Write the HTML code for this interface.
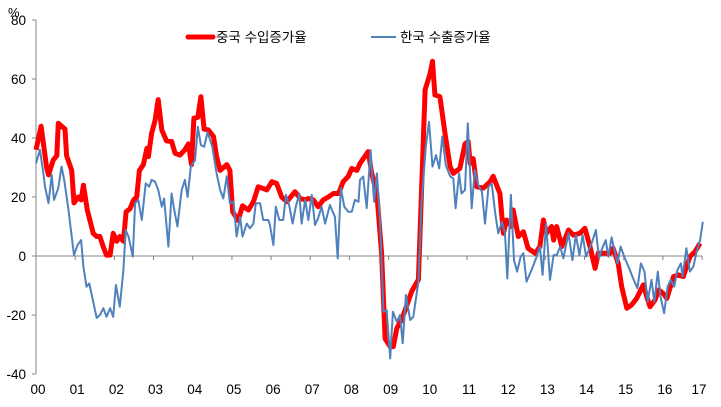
<!DOCTYPE html>
<html><head><meta charset="utf-8"><style>
body{margin:0;background:#fff;}
svg text{font-family:"Liberation Sans","Noto Sans CJK KR",sans-serif;fill:#000;}
</style></head><body>
<svg width="721" height="402" viewBox="0 0 721 402" xmlns="http://www.w3.org/2000/svg">
<g id="axes"></g>
<g id="series"></g>
<g>
<line x1="188" y1="37" x2="213" y2="37" stroke="#FF0000" stroke-width="5" stroke-linecap="round"/>
<text x="216" y="42" font-size="13.5">중국 수입증가율</text>
<line x1="371" y1="37" x2="396" y2="37" stroke="#4F81BD" stroke-width="2"/>
<text x="400" y="42" font-size="13.5">한국 수출증가율</text>
</g>
<text x="8" y="17" font-size="13">%</text>
</svg>
<script>
const yTicks=[80,60,40,20,0,-20,-40];
const xTickLabels=["00","01","02","03","04","05","06","07","08","09","10","11","12","13","14","15","16","17"];
const chinaT=[0,.13,.27,.32,.44,.53,.57,.74,.78,.91,.97,1.08,1.15,1.21,1.31,1.46,1.55,1.63,1.72,1.8,1.89,1.97,2.06,2.14,2.23,2.3,2.4,2.49,2.57,2.64,2.74,2.83,2.87,2.95,3.04,3.12,3.21,3.33,3.46,3.55,3.67,3.8,3.89,3.97,4.03,4.13,4.21,4.29,4.4,4.53,4.61,4.7,4.87,4.95,5.02,5.16,5.27,5.42,5.55,5.67,5.89,6.02,6.14,6.27,6.4,6.61,6.74,6.87,6.95,7.08,7.2,7.33,7.46,7.59,7.72,7.84,7.97,8.06,8.19,8.27,8.48,8.57,8.7,8.82,8.91,9.04,9.12,9.21,9.33,9.46,9.59,9.76,9.93,10.06,10.12,10.18,10.31,10.44,10.57,10.65,10.82,10.95,11.03,11.08,11.16,11.25,11.42,11.59,11.67,11.84,11.93,12.01,12.14,12.18,12.31,12.44,12.56,12.74,12.86,12.95,13.03,13.16,13.21,13.29,13.42,13.59,13.71,13.88,14.01,14.14,14.27,14.35,14.48,14.65,14.73,14.86,14.95,15.08,15.2,15.33,15.5,15.59,15.67,15.8,15.89,16.01,16.1,16.27,16.4,16.52,16.69,16.82,16.95];
const chinaV=[36,44,30,27.5,32.5,34,45,43,34,29,18,20,19,24,15.6,7.7,6.6,6.6,3,0.3,0.3,7.7,5,6.6,5,15,16,19,20,29,31,36.5,33.7,41.6,46,53,42.7,39,38.8,34.8,34.2,36,38,31,46.7,47,54,43,42.7,40.5,33.7,29,31,29,15,12,17,15.6,18.4,23.5,22.4,25.2,24.6,20,18.4,21.8,19.5,19,19.5,19,16.7,19,20,21.2,21.2,25.2,27,29.7,29,31.4,35.4,28,21,1,-28,-30.7,-30.7,-24.5,-21.7,-17,-12,-8,56.3,62,66,54.6,54,41.6,30.3,28,29.7,38,38.8,31.4,33,23.5,23,25.2,27,21.2,7.7,12.2,10,15.6,6.6,8.2,2.6,0.9,3.2,12.2,7.7,10,5.4,10,3.2,8.8,7.1,7.7,9.4,3.2,-4.2,0.9,0.9,0.9,2.6,-2.5,-10.4,-17.7,-16.6,-14.4,-9.8,-13.8,-17.2,-14.9,-11.5,-12.7,-14.4,-7,-6.4,-7,-0.2,1.5,4.3];
const koreaT=[0,.1,.19,.23,.32,.4,.46,.57,.65,.72,.83,.91,.97,1.06,1.15,1.21,1.29,1.36,1.46,1.55,1.63,1.72,1.8,1.89,1.97,2.04,2.14,2.23,2.29,2.36,2.47,2.53,2.61,2.7,2.8,2.89,2.95,3.04,3.12,3.21,3.27,3.38,3.46,3.53,3.61,3.72,3.8,3.87,3.95,4.06,4.13,4.21,4.29,4.38,4.5,4.61,4.7,4.78,4.87,4.95,5.04,5.12,5.21,5.27,5.38,5.46,5.55,5.61,5.72,5.8,5.93,5.97,6.06,6.12,6.21,6.31,6.38,6.46,6.55,6.63,6.72,6.78,6.87,6.95,7.04,7.12,7.2,7.29,7.38,7.5,7.63,7.7,7.78,7.87,7.97,8.06,8.14,8.23,8.27,8.35,8.44,8.54,8.63,8.7,8.78,8.87,8.95,9.04,9.11,9.21,9.29,9.36,9.44,9.55,9.63,9.76,9.84,9.95,10.03,10.12,10.21,10.29,10.37,10.46,10.57,10.65,10.71,10.8,10.86,10.95,11.02,11.12,11.2,11.29,11.38,11.46,11.55,11.63,11.72,11.8,11.89,11.97,12.03,12.12,12.2,12.28,12.37,12.44,12.52,12.65,12.78,12.86,12.93,13.02,13.12,13.21,13.29,13.38,13.46,13.59,13.69,13.78,13.87,13.95,14.04,14.18,14.29,14.37,14.45,14.54,14.61,14.69,14.84,14.92,15.03,15.14,15.24,15.35,15.44,15.53,15.61,15.71,15.78,15.87,15.94,16.03,16.12,16.2,16.29,16.37,16.46,16.5,16.6,16.69,16.78,16.86,16.95,17.02];
const koreaV=[31.4,36,28,23.5,17.9,27.5,19,23,30.3,25.8,15.6,6.6,0.3,3.7,5.4,-3.6,-10.4,-9.3,-15.5,-21,-20,-17.7,-20.6,-17.7,-20.6,-9.8,-17.2,-4.7,8.8,6.6,-0.2,17.9,19,12.2,24.6,23.5,25.8,25.2,22.4,16.7,19.5,3.2,21.2,15.6,10,22.4,25.8,20,30.3,32.5,43.8,37.6,37,42,37,28,22.4,19.5,27,17.9,18.4,6.6,13.3,6.6,11,9.4,11,17.9,17.9,12.2,12.2,10.5,3.7,16.7,12.2,12.2,20.7,17.3,11,16.7,21.2,11,19,12.2,20.7,10.5,12.8,16.7,11,17.3,13.3,-0.8,23,16.7,15,15,19,18.4,25.8,26.9,16.2,35.9,18.4,28,12.2,-18.9,-18.4,-34.7,-18.9,-22.3,-20,-29.6,-13.2,-21.7,-20.6,-8.7,17.9,37,45.5,30.3,34.2,29.7,40.5,30.8,27,26.3,16.2,28,21.2,22.4,45,16.2,29.2,24,21.8,11,23.5,24.6,14.5,7.7,11.6,7.7,-7.6,20.7,-1.4,-5.3,-0.2,0.9,-8.7,-4.7,-0.2,3.2,-6.4,11,-8.1,0.3,0.3,3.2,-0.8,7.7,-1.4,7.1,0.3,7.1,-0.2,4.3,8.8,-0.8,2.6,5.4,-0.2,6.3,-2.5,3.2,-0.8,-4.2,-7.6,-10.9,-2.5,-5.3,-15.5,-8.1,-15.5,-5.3,-13.8,-19.4,-10.4,-8.1,-10.4,-4.7,-2.5,-7,2.6,-5.3,-3.6,1.5,5.4,11.6];

const NS="http://www.w3.org/2000/svg";
const X0=36, XS=39.18, Y0=256, YS=2.95;
function xs(t){return X0+t*XS;}
function ys(v){return Y0-v*YS;}
const axes=document.getElementById('axes'), series=document.getElementById('series');
function mk(tag,attrs,parent){const e=document.createElementNS(NS,tag);for(const k in attrs)e.setAttribute(k,attrs[k]);parent.appendChild(e);return e;}
const yAxis=mk('line',{x1:X0,y1:ys(80),x2:X0,y2:ys(-40),stroke:'#868686','stroke-width':1},axes);


yTicks.forEach(v=>{
  const tk=mk('line',{x1:X0-4,y1:ys(v),x2:X0,y2:ys(v),stroke:'#868686'},axes);
  
  
  const t=mk('text',{x:X0-10,y:ys(v)+5,'text-anchor':'end','font-size':'13.5'},axes);
  t.textContent=v;
  
  
});
const xAxis=mk('line',{x1:X0,y1:Y0,x2:xs(17),y2:Y0,stroke:'#868686','stroke-width':1},axes);


xTickLabels.forEach((lab,i)=>{
  const tk=mk('line',{x1:xs(i),y1:Y0,x2:xs(i),y2:Y0+4,stroke:'#868686'},axes);
  
  
  const t=mk('text',{x:xs(i)+2-(i==17?5:0),y:394,'text-anchor':'middle','font-size':'13.5'},axes);
  t.textContent=lab;
  
  
});
function pts(T,V){return T.map((t,i)=>xs(t).toFixed(1)+','+ys(V[i]).toFixed(1)).join(' ');}
const kl=mk('polyline',{points:pts(koreaT,koreaV),fill:'none',stroke:'#4F81BD','stroke-width':2,'stroke-linejoin':'round'},series);


const cl=mk('polyline',{points:pts(chinaT,chinaV),fill:'none',stroke:'#FF0000','stroke-width':5,'stroke-linejoin':'round'},series);


series.insertBefore(cl,kl);
</script>
</body></html>
